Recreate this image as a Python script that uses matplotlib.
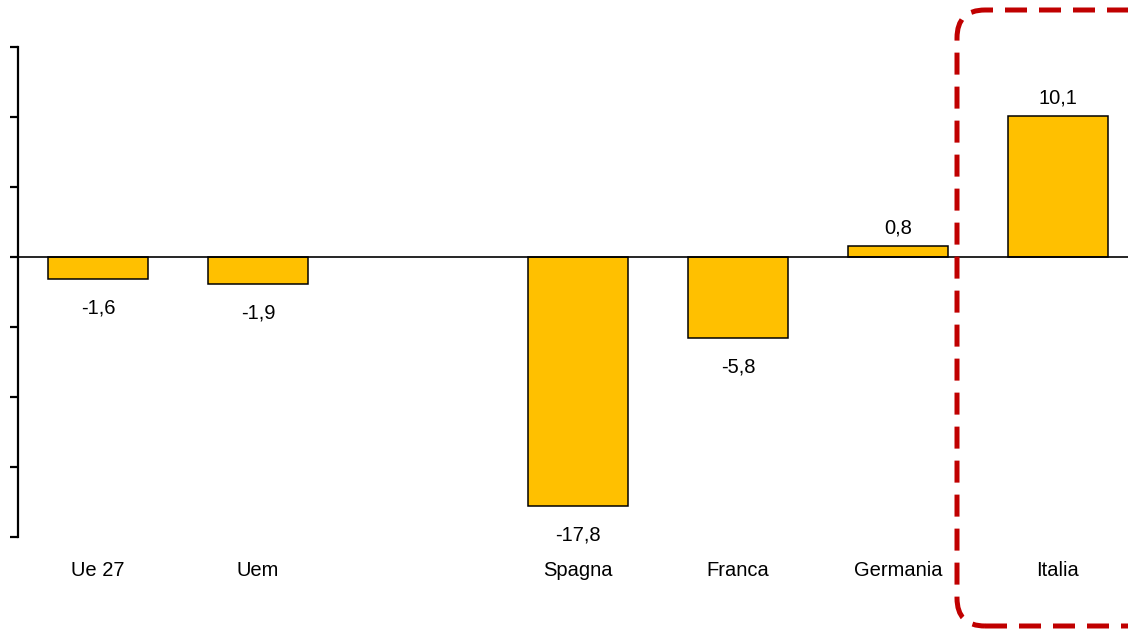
import matplotlib.pyplot as plt
from matplotlib import font_manager
from matplotlib.patches import FancyBboxPatch

# dati del grafico (lo slot vuoto separa gli aggregati dai paesi)
categories = ["Ue 27", "Uem", "", "Spagna", "Franca", "Germania", "Italia"]
values = [-1.6, -1.9, None, -17.8, -5.8, 0.8, 10.1]
y_ticks = [-20, -15, -10, -5, 0, 5, 10, 15]

# font stretto tipo Arial Narrow, se c'è
names = {f.name for f in font_manager.fontManager.ttflist}
if "Liberation Sans Narrow" in names:
    font = "Liberation Sans Narrow"
    fs = 16
else:
    font = "Liberation Sans"
    fs = 14.5
plt.rcParams['font.family'] = [font, 'DejaVu Sans']

fig = plt.figure(figsize=(11.28, 6.29), dpi=100)
ax = fig.add_axes([18 / 1128, (629 - 537) / 629, (1128 - 18) / 1128, (537 - 47) / 629])

xs = [i for i, v in enumerate(values) if v is not None]
vals = [v for v in values if v is not None]
ax.bar(xs, vals, width=0.625, color="#FFC000", edgecolor="black", linewidth=1.1, zorder=3)

# etichette dei valori
for x, v in zip(xs, vals):
    txt = f"{v:.1f}".replace(".", ",")
    off = 6 if v >= 0 else -14
    ax.annotate(txt, (x, v), xytext=(0, off), textcoords="offset points",
                ha="center", va="bottom" if v >= 0 else "top", fontsize=fs)

# etichette categorie sotto l'asse
for i, c in enumerate(categories):
    if c:
        ax.annotate(c, (i, -20), xytext=(0, -17), textcoords="offset points",
                    ha="center", va="top", fontsize=fs, annotation_clip=False)

ax.axhline(0, color="black", linewidth=1.2, zorder=4)
ax.set_xlim(-0.5, (1128 - 98) / 160)
ax.set_ylim(-20, 15)
ax.set_yticks(y_ticks)
ax.set_yticklabels([])
ax.set_xticks([])
for s in ["top", "right", "bottom"]:
    ax.spines[s].set_visible(False)
ax.spines["left"].set_linewidth(1.6)
ax.tick_params(axis="y", direction="out", length=6, width=1.6)

# riquadro tratteggiato rosso attorno all'Italia
box = FancyBboxPatch((9.57, 0.03), 2.1, 6.16,
                     boxstyle="round,pad=0,rounding_size=0.28",
                     transform=fig.dpi_scale_trans, fill=False,
                     edgecolor="#C00000", linewidth=3.6,
                     linestyle=(0, (4.4, 2.4)), clip_on=False)
fig.patches.append(box)

fig.savefig("out.png", dpi=100)
